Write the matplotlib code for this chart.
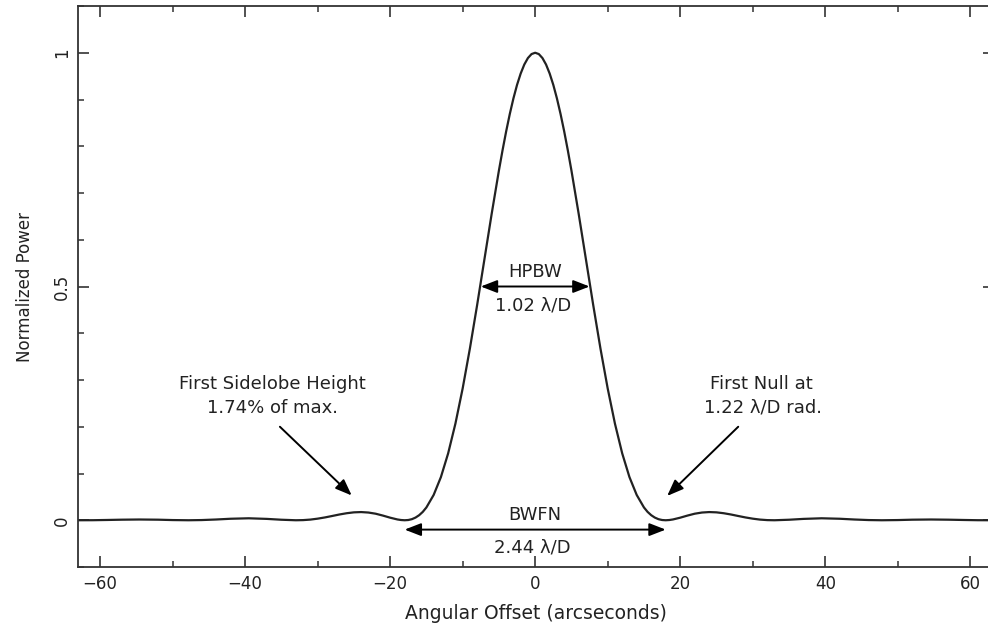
import matplotlib
matplotlib.use("Agg")
import matplotlib.pyplot as plt
from matplotlib.ticker import MultipleLocator, FixedLocator

plt.rcParams['font.family'] = ['DejaVu Sans']

# Angular offset (arcseconds) and normalized power
theta = [-63, -61, -59, -57, -54.6, -52, -50, -47.8, -46, -44, -42, -39.5, -37, -35, -33,
         -32, -31, -30, -29, -28, -27, -26, -25, -24, -23, -22, -21, -20, -19, -18.5, -18,
         -17.5, -17, -16.5, -16, -15.5, -15, -14, -13, -12, -11, -10, -9, -8, -7, -6, -5, -4.5, -4,
         -3.5, -3, -2.5, -2, -1.5, -1, -0.5,
         0,
         0.5, 1, 1.5, 2, 2.5, 3, 3.5,
         4, 4.5, 5, 6, 7, 8, 9, 10, 11, 12, 13, 14, 15, 15.5, 16, 16.5, 17, 17.5,
         18, 18.5, 19, 20, 21, 22, 23, 24, 25, 26, 27, 28, 29, 30, 31, 32,
         33, 35, 37, 39.5, 42, 44, 46, 47.8, 50, 52, 54.6, 57, 59, 61, 63]
power = [0.0000, 0.0001, 0.0006, 0.0012, 0.0016, 0.0012, 0.0004, 0.0000, 0.0004, 0.0016, 0.0032, 0.0042, 0.0029, 0.0011, 0.0000,
         0.0003, 0.0014, 0.0034, 0.0060, 0.0091, 0.0123, 0.0150, 0.0169, 0.0175, 0.0165, 0.0140, 0.0100, 0.0055, 0.0017, 0.0005, 0.0000,
         0.0005, 0.0023, 0.0057, 0.0108, 0.0179, 0.0274, 0.0541, 0.0923, 0.1431, 0.2066, 0.2819, 0.3675, 0.4607, 0.5580, 0.6553, 0.7481, 0.7914, 0.8319,
         0.8690, 0.9023, 0.9313, 0.9555, 0.9748, 0.9887, 0.9972,
         1.0000,
         0.9972, 0.9887, 0.9748, 0.9555, 0.9313, 0.9023, 0.8690,
         0.8319, 0.7914, 0.7481, 0.6553, 0.5580, 0.4607, 0.3675, 0.2819, 0.2066, 0.1431, 0.0923, 0.0541, 0.0274, 0.0179, 0.0108, 0.0057, 0.0023, 0.0005,
         0.0000, 0.0005, 0.0017, 0.0055, 0.0100, 0.0140, 0.0165, 0.0175, 0.0169, 0.0150, 0.0123, 0.0091, 0.0060, 0.0034, 0.0014, 0.0003,
         0.0000, 0.0011, 0.0029, 0.0042, 0.0032, 0.0016, 0.0004, 0.0000, 0.0004, 0.0012, 0.0016, 0.0012, 0.0006, 0.0001, 0.0000]

x_major = [-60, -40, -20, 0, 20, 40, 60]
y_major = [0, 0.5, 1]
y_labels = ["0", "0.5", "1"]

hpbw = (-7.5, 7.5)
bwfn = (-18.0, 18.0)

INK = '#222222'

fig = plt.figure(figsize=(9.88, 6.27), dpi=100)
ax = fig.add_axes([78.3 / 988, 60 / 627, (993.5 - 78.3) / 988, (621 - 60) / 627])

ax.plot(theta, power, color=INK, lw=1.6, solid_joinstyle='round')

ax.set_xlim(-63, 63.2)
ax.set_ylim(-0.1, 1.1)

ax.xaxis.set_major_locator(FixedLocator(x_major))
ax.xaxis.set_minor_locator(MultipleLocator(10))
ax.yaxis.set_major_locator(FixedLocator(y_major))
ax.yaxis.set_minor_locator(MultipleLocator(0.1))
ax.set_yticklabels(y_labels)

for s in ax.spines.values():
    s.set_color('#333333')
    s.set_linewidth(1.3)

ax.tick_params(which='both', direction='in', top=True, right=True, colors='#333333',
               labelcolor=INK, labelsize=12)
ax.tick_params(which='major', length=8, width=1.2)
ax.tick_params(which='minor', length=4, width=1.1)
ax.tick_params(axis='x', pad=6)
ax.tick_params(axis='y', pad=5)
for lab in ax.get_yticklabels():
    lab.set_rotation(90)
    lab.set_va('center')

ax.set_xlabel('Angular Offset (arcseconds)', fontsize=13.5, color=INK, labelpad=8)
ax.set_ylabel('Normalized Power', fontsize=12, color=INK, labelpad=14)

# annotations
tkw = dict(ha='center', va='center', fontsize=13, color=INK)
ax.text(-36.2, 0.292, 'First Sidelobe Height', **tkw)
ax.text(-36.2, 0.241, '1.74% of max.', **tkw)
ax.text(31.2, 0.292, 'First Null at', **tkw)
ax.text(31.4, 0.241, '1.22 λ/D rad.', **tkw)
ax.text(0, 0.532, 'HPBW', **tkw)
ax.text(-0.3, 0.460, '1.02 λ/D', **tkw)
ax.text(0, 0.012, 'BWFN', **tkw)
ax.text(-0.4, -0.059, '2.44 λ/D', **tkw)

akw = dict(color='black', lw=1.4, shrinkA=0, shrinkB=0, mutation_scale=11)
style1 = '-|>,head_length=0.9,head_width=0.35'
style2 = '<|-|>,head_length=0.9,head_width=0.35'
ax.annotate('', xy=(-25.3, 0.053), xytext=(-35.2, 0.200),
            arrowprops=dict(arrowstyle=style1, **akw))
ax.annotate('', xy=(18.2, 0.052), xytext=(28.0, 0.200),
            arrowprops=dict(arrowstyle=style1, **akw))
ax.annotate('', xy=(hpbw[0], 0.5), xytext=(hpbw[1], 0.5),
            arrowprops=dict(arrowstyle=style2, **akw))
ax.annotate('', xy=(bwfn[0], -0.020), xytext=(bwfn[1], -0.020),
            arrowprops=dict(arrowstyle=style2, **akw))

fig.savefig('out.png', dpi=100)
